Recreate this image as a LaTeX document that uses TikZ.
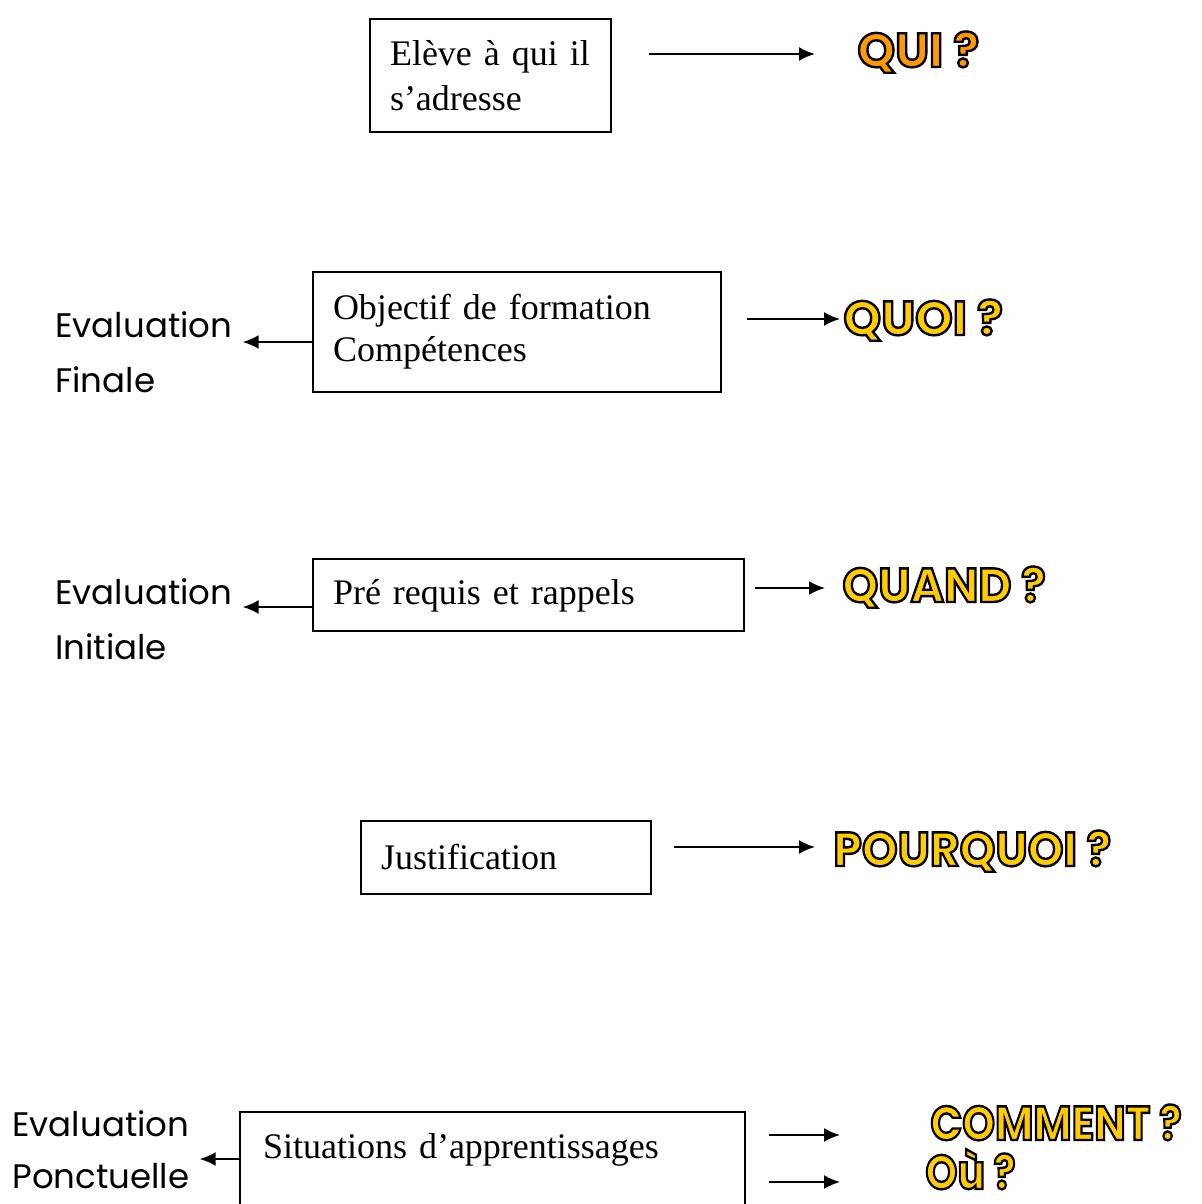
\documentclass[tikz,border=0pt]{standalone}
\usepackage{fontspec}
\setmainfont{Liberation Serif}
\newfontfamily\comicfont{Poppins}
\usetikzlibrary{arrows.meta,positioning}
\definecolor{qorange}{HTML}{FF9900}
\definecolor{qyellow}{HTML}{FFCC00}
% coloured question word: coloured letters with a black edge
\newcommand{\questiontxt}[2]{%
  \textcolor{#1}{\special{pdf:literal direct 0 0 0 RG 1.2 w 2 Tr}#2\special{pdf:literal direct 0 Tr}}}
\tikzset{
     boxnode/.style = {draw, line width=1pt, anchor=north west, inner xsep=10pt, align=left,
                       font=\fontsize{18pt}{21pt}\selectfont},
     evalnode/.style = {anchor=north west, align=left, inner sep=0pt,
                        font=\comicfont\fontsize{17pt}{27.5pt}\selectfont},
     question/.style = {anchor=base west, inner sep=0pt,
                        font=\comicfont\bfseries\fontsize{24pt}{24pt}\selectfont},
     link/.style = {black, line width=1pt, -{Latex[length=8pt,width=7pt]}},
    }

\begin{document}
\begin{tikzpicture}[x=0.5pt,y=-0.5pt]
        \useasboundingbox[fill=white] (0,0) rectangle (1201,1204);
        \clip (0,0) rectangle (1201,1204);
        % boxes
        \node [boxnode, text width=100.5pt, minimum height=56.5pt] (eleve) at (369,18) {Elève à qui il\\[1.5pt]s’adresse};
        \node [boxnode, text width=184pt, minimum height=60pt] (objectif) at (312,271) {Objectif de formation\\Compétences};
        \node [boxnode, text width=195.5pt, inner ysep=0pt, text height=22.5pt, text depth=13.5pt] (prerequis) at (312,558) {Pré requis et rappels};
        \node [boxnode, text width=125pt, inner ysep=0pt, text height=24pt, text depth=12.5pt] (justif) at (360,820) {Justification};
        \node [boxnode, text width=229.5pt, inner xsep=11.5pt, inner ysep=0pt, text height=23pt, text depth=40pt] (situations) at (239,1111) {Situations d’apprentissages};
        % evaluations
        \node [evalnode] (evalfin) at (55,311) {Evaluation\\Finale};
        \node [evalnode] (evalini) at (55,578) {Evaluation\\Initiale};
        \node [evalnode, font=\comicfont\fontsize{17pt}{26pt}\selectfont] (evalponc) at (12,1110) {Evaluation\\Ponctuelle};
        % questions
        \node [question] (qui) at (857,67) {\questiontxt{qorange}{QUI ?}};
        \node [question] (quoi) at (843,335) {\questiontxt{qyellow}{QUOI ?}};
        \node [question] (quand) at (842,602) {\scalebox{0.95}[1]{\questiontxt{qyellow}{QUAND ?}}};
        \node [question] (pourquoi) at (833,866) {\scalebox{0.95}[1]{\questiontxt{qyellow}{POURQUOI ?}}};
        \node [question] (comment) at (930,1140) {\scalebox{0.87}[1]{\questiontxt{qyellow}{COMMENT ?}}};
        \node [question] (ou) at (925,1189) {\scalebox{0.85}[1]{\questiontxt{qyellow}{Où ?}}};
        \draw [link, shorten <=18.5pt, shorten >=21pt] ([yshift=6.5pt]eleve.east |- qui.base west) -- ([yshift=6.5pt]qui.base west);
        \draw [link, shorten <=12.5pt, shorten >=1.5pt] ([yshift=8pt]objectif.east |- quoi.base west) -- ([yshift=8pt]quoi.base west);
        \draw [link, shorten <=5pt, shorten >=8.5pt] ([yshift=7pt]prerequis.east |- quand.base west) -- ([yshift=7pt]quand.base west);
        \draw [link, shorten <=11pt, shorten >=9pt] ([yshift=9.5pt]justif.east |- pourquoi.base west) -- ([yshift=9.5pt]pourquoi.base west);
        \draw [link, shorten <=11.5pt, shorten >=45pt] ([yshift=2.5pt]situations.east |- comment.base west) -- ([yshift=2.5pt]comment.base west);
        \draw [link, shorten <=11.5pt, shorten >=42.5pt] ([yshift=3.5pt]situations.east |- ou.base west) -- ([yshift=3.5pt]ou.base west);
        \draw [link, shorten >=5pt] ([yshift=-35.5pt]objectif.north west) -- ([yshift=-35.5pt]objectif.north west -| evalfin.east);
        \draw [link, shorten >=5pt] ([yshift=-24.5pt]prerequis.north west) -- ([yshift=-24.5pt]prerequis.north west -| evalini.east);
        \draw [link, shorten >=5pt] ([yshift=-24pt]situations.north west) -- ([yshift=-24pt]situations.north west -| evalponc.east);
    \end{tikzpicture}
\end{document}
